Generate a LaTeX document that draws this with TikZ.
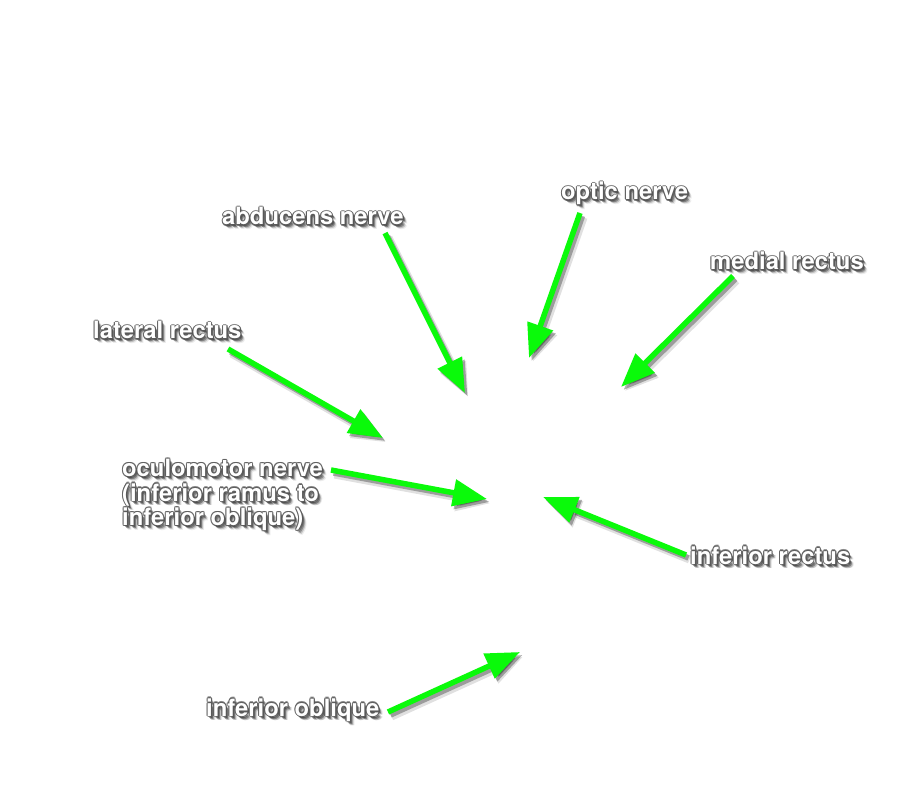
\documentclass[tikz,border=0pt]{standalone}
\usepackage{fontspec}
\newfontfamily\lblfont{TeX Gyre Heros}
\usetikzlibrary{arrows.meta,calc}
\definecolor{arrgreen}{RGB}{10,250,10}
\newcommand\mylabel[5]{%
  \foreach \dx/\dy/\op in {1.5/2/0.35,2.5/3/0.35,3.5/4/0.18,4.5/4.5/0.08}{\node[lbl,#5,text=black,text opacity=\op] at (#2+\dx,#3+\dy) {#4};}%
  \foreach \dx/\dy in {1.1/0,-1.1/0,0/1.1,0/-1.1,.8/.8,-.8/.8,.8/-.8,-.8/-.8}{\node[lbl,#5,text=black!65,text opacity=0.7] at (#2+\dx,#3+\dy) {#4};}%
  \node[lbl,#5,text=white] (#1) at (#2,#3) {#4};}
\newcommand\myarrow[2]{%
  \draw[arrshadow, opacity=.12, line width=8pt, transform canvas={xshift=3.5pt,yshift=-4.5pt}] (#1) -- (#2);
  \draw[arrshadow, opacity=.3, transform canvas={xshift=2.5pt,yshift=-3pt}] (#1) -- (#2);
  \draw[arr] (#1) -- (#2);}
\begin{document}
\begin{tikzpicture}[x=1pt,y=-1pt,
  lbl/.style={anchor=base west, inner sep=0pt, font=\lblfont\bfseries\fontsize{23.8}{24.5}\selectfont, align=left},
  arr/.style={draw=arrgreen, line width=5.5pt, -{Triangle[length=34pt,width=26pt]}},
  arrshadow/.style={draw=black, line width=5.5pt, -{Triangle[length=34pt,width=26pt]}}
]
\fill[white] (0,0) rectangle (900,810);
\useasboundingbox (0,0) rectangle (900,810);

% arrow end points
\coordinate (abT) at (385,233);  \coordinate (abH) at (465,393);
\coordinate (opT) at (580,213);  \coordinate (opH) at (529,358);
\coordinate (meT) at (733,276);  \coordinate (meH) at (621,387);
\coordinate (laT) at (228,349);  \coordinate (laH) at (383,438);
\coordinate (ocT) at (331,470);  \coordinate (ocH) at (487,499);
\coordinate (irT) at (686,555);  \coordinate (irH) at (543,497);
\coordinate (ioT) at (388,712);  \coordinate (ioH) at (520,652);

\myarrow{abT}{abH}
\myarrow{opT}{opH}
\myarrow{meT}{meH}
\myarrow{laT}{laH}
\myarrow{ocT}{ocH}
\myarrow{irT}{irH}
\myarrow{ioT}{ioH}

% labels
\mylabel{abd}{222}{225}{abducens nerve}{}
\mylabel{opt}{561}{200}{optic nerve}{}
\mylabel{med}{710}{270}{medial rectus}{}
\mylabel{lat}{93}{339}{lateral rectus}{}
\mylabel{ocu}{122}{459}{oculomotor nerve\\(inferior ramus to\\inferior oblique)}{anchor=north west}
\mylabel{infr}{690}{564}{inferior rectus}{}
\mylabel{info}{206}{716}{inferior oblique}{}
\end{tikzpicture}
\end{document}
